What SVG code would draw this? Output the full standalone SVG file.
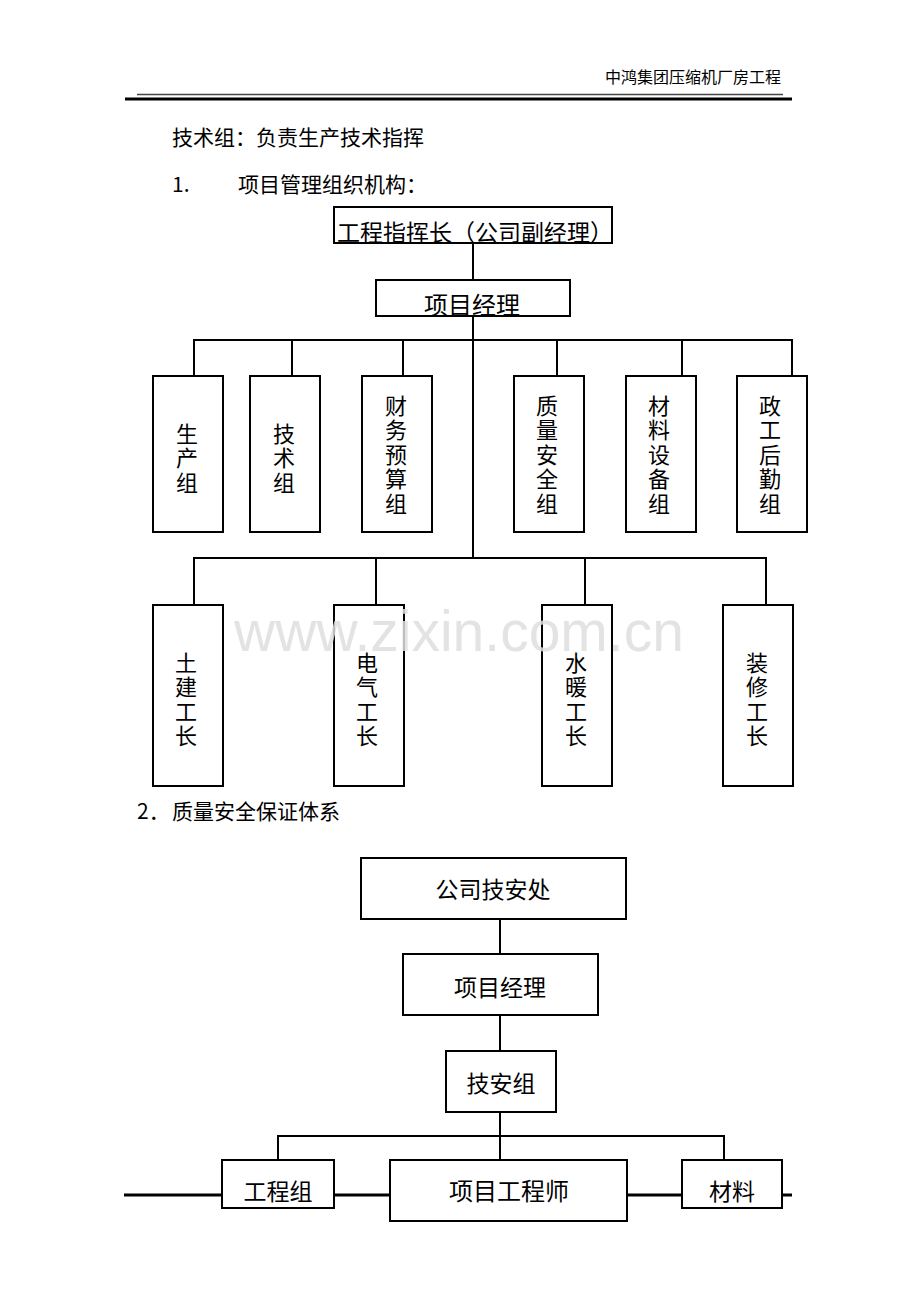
<svg xmlns="http://www.w3.org/2000/svg" width="920" height="1302" viewBox="0 0 920 1302">
<style>
text{font-family:"Noto Sans CJK SC","Noto Sans",sans-serif;fill:#000}
.lbl{font-size:23px}
.body{font-size:21px}
.box{fill:#fff;stroke:#000;stroke-width:2}
.ln{fill:none;stroke:#000;stroke-width:2}
.v{font-size:22px;text-anchor:middle}
.c{text-anchor:middle}
</style>
<rect width="920" height="1302" fill="#fff"/>
<g id="header">
<text x="781" y="83" style="font-size:16px" text-anchor="end">中鸿集团压缩机厂房工程</text>
<line x1="137" y1="94.5" x2="783" y2="94.5" stroke="#444" stroke-width="1.5"/>
<line x1="125" y1="99" x2="792" y2="99" stroke="#000" stroke-width="3"/>
</g>
<g id="body-text">
<text class="body" x="172" y="145">技术组：负责生产技术指挥</text>
<text class="body" x="172" y="192">1.</text>
<text class="body" x="238" y="192">项目管理组织机构：</text>
<text class="body" x="137" y="819">2．</text>
<text class="body" x="172" y="819">质量安全保证体系</text>
</g>
<line id="footer-line" x1="124" y1="1195" x2="792" y2="1195" stroke="#000" stroke-width="3"/>
<g id="connectors">
<path class="ln" d="M473 243V280M473 316V558"/>
<path class="ln" d="M194 376V340H792V376M292 340V376M403 340V376M557 340V376M682 340V376"/>
<path class="ln" d="M194 605V558H766V605M376 558V605M585 558V605"/>
<path class="ln" d="M500 918V954M500 1015V1051M500 1112V1160"/>
<path class="ln" d="M278 1160V1136H724V1160"/>
</g>
<g id="n-commander"><rect class="box" x="334" y="207" width="278" height="36"/><text class="lbl c" x="475" y="241">工程指挥长（公司副经理）</text></g>
<g id="n-pm1"><rect class="box" x="376" y="280" width="194" height="36"/><text class="c" style="font-size:24px" x="472" y="314">项目经理</text></g>
<g id="n-prod"><rect class="box" x="153" y="376" width="70" height="156"/><text class="v"><tspan x="187" y="441.5">生</tspan><tspan x="187" y="466">产</tspan><tspan x="187" y="490.5">组</tspan></text></g>
<g id="n-tech"><rect class="box" x="250" y="376" width="70" height="156"/><text class="v"><tspan x="284" y="441.5">技</tspan><tspan x="284" y="466">术</tspan><tspan x="284" y="490.5">组</tspan></text></g>
<g id="n-fin"><rect class="box" x="362" y="376" width="70" height="156"/><text class="v"><tspan x="396" y="413.5">财</tspan><tspan x="396" y="438">务</tspan><tspan x="396" y="462.5">预</tspan><tspan x="396" y="487">算</tspan><tspan x="396" y="511.5">组</tspan></text></g>
<g id="n-qs"><rect class="box" x="514" y="376" width="70" height="156"/><text class="v"><tspan x="547" y="413.5">质</tspan><tspan x="547" y="438">量</tspan><tspan x="547" y="462.5">安</tspan><tspan x="547" y="487">全</tspan><tspan x="547" y="511.5">组</tspan></text></g>
<g id="n-mat"><rect class="box" x="626" y="376" width="70" height="156"/><text class="v"><tspan x="659" y="413.5">材</tspan><tspan x="659" y="438">料</tspan><tspan x="659" y="462.5">设</tspan><tspan x="659" y="487">备</tspan><tspan x="659" y="511.5">组</tspan></text></g>
<g id="n-admin"><rect class="box" x="737" y="376" width="70" height="156"/><text class="v"><tspan x="770" y="413.5">政</tspan><tspan x="770" y="438">工</tspan><tspan x="770" y="462.5">后</tspan><tspan x="770" y="487">勤</tspan><tspan x="770" y="511.5">组</tspan></text></g>
<g id="n-civil"><rect class="box" x="153" y="605" width="70" height="181"/><text class="v"><tspan x="186" y="670.5">土</tspan><tspan x="186" y="695">建</tspan><tspan x="186" y="719.5">工</tspan><tspan x="186" y="744">长</tspan></text></g>
<g id="n-elec"><rect class="box" x="334" y="605" width="70" height="181"/><text class="v"><tspan x="367" y="670.5">电</tspan><tspan x="367" y="695">气</tspan><tspan x="367" y="719.5">工</tspan><tspan x="367" y="744">长</tspan></text></g>
<g id="n-hvac"><rect class="box" x="542" y="605" width="70" height="181"/><text class="v"><tspan x="576" y="670.5">水</tspan><tspan x="576" y="695">暖</tspan><tspan x="576" y="719.5">工</tspan><tspan x="576" y="744">长</tspan></text></g>
<g id="n-deco"><rect class="box" x="723" y="605" width="70" height="181"/><text class="v"><tspan x="757" y="670.5">装</tspan><tspan x="757" y="695">修</tspan><tspan x="757" y="719.5">工</tspan><tspan x="757" y="744">长</tspan></text></g>
<g id="n-safety-dept"><rect class="box" x="361" y="858" width="265" height="61"/><text class="lbl c" x="493" y="898">公司技安处</text></g>
<g id="n-pm2"><rect class="box" x="403" y="954" width="195" height="61"/><text class="lbl c" x="500" y="996">项目经理</text></g>
<g id="n-safety-group"><rect class="box" x="446" y="1051" width="110" height="61"/><text class="lbl c" x="501" y="1092">技安组</text></g>
<g id="n-eng-group"><rect class="box" x="222" y="1160" width="112" height="48"/><text class="lbl c" x="278" y="1200">工程组</text></g>
<g id="n-engineer"><rect class="box" x="390" y="1160" width="237" height="61"/><text class="c" style="font-size:24px" x="509" y="1200">项目工程师</text></g>
<g id="n-material"><rect class="box" x="682" y="1160" width="100" height="48"/><text class="lbl c" x="732" y="1200">材料</text></g>
<text id="watermark" x="459" y="651" style="font-family:'Liberation Sans',Arial,sans-serif;font-size:57px;fill:#dedede;fill-opacity:0.85" text-anchor="middle">www.zixin.com.cn</text>
</svg>
